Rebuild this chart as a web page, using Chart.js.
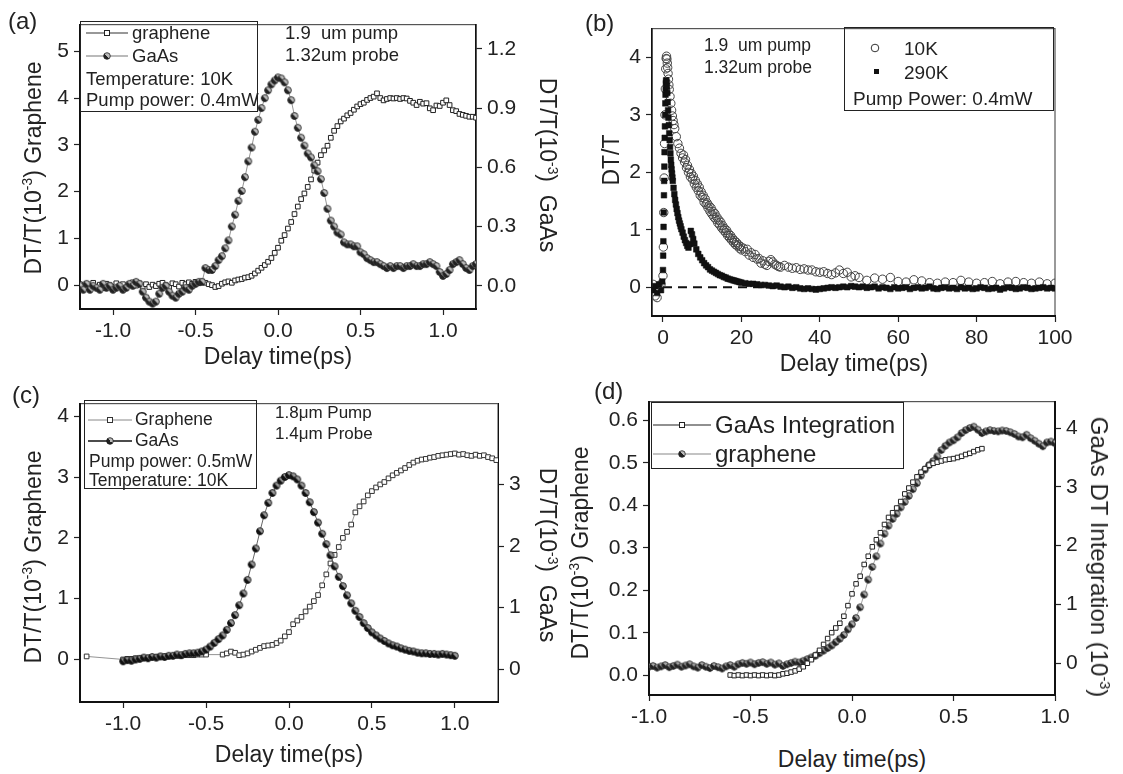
<!DOCTYPE html>
<html><head><meta charset="utf-8">
<script src="https://cdn.jsdelivr.net/npm/chart.js@4.4.1/dist/chart.umd.min.js"></script>
<style>
body{margin:0;background:#fff;width:1123px;height:774px;position:relative;overflow:hidden;font-family:"Liberation Sans",Arial,sans-serif;color:#222}
canvas{position:absolute}
.t{position:absolute;white-space:nowrap;line-height:1}
.vc{transform:translateY(-50%)}
.cc{transform:translate(-50%,-50%)}
.rl{transform:translate(-50%,-50%) rotate(-90deg)}
.rr{transform:translate(-50%,-50%) rotate(90deg)}
.box{position:absolute;border:1.5px solid #222;box-sizing:border-box}
.tt{font-size:23px}
sup{font-size:0.6em;vertical-align:0.6em;line-height:0}
svg{position:absolute;overflow:visible}
</style></head><body>
<canvas id="ca"></canvas><canvas id="cb"></canvas><canvas id="cc"></canvas><canvas id="cd"></canvas>

<!-- panel labels -->
<div class="t vc" style="left:8px;top:21px;font-size:24px">(a)</div>
<div class="t vc" style="left:585px;top:23px;font-size:24px">(b)</div>
<div class="t vc" style="left:12px;top:395px;font-size:24px">(c)</div>
<div class="t vc" style="left:594px;top:391px;font-size:24px">(d)</div>

<!-- axis titles -->
<div class="t cc tt" style="left:278px;top:356px">Delay time(ps)</div>
<div class="t cc tt" style="left:854px;top:363px">Delay time(ps)</div>
<div class="t cc tt" style="left:289px;top:754px">Delay time(ps)</div>
<div class="t cc tt" style="left:852px;top:759px">Delay time(ps)</div>
<div class="t rl tt" style="left:33px;top:168px">DT/T(10<sup>-3</sup>) Graphene</div>
<div class="t rr tt" style="left:547px;top:165px">DT/T(10<sup>-3</sup>)&nbsp; GaAs</div>
<div class="t rl tt" style="left:611px;top:160px">DT/T</div>
<div class="t rl tt" style="left:33px;top:557px">DT/T(10<sup>-3</sup>) Graphene</div>
<div class="t rr tt" style="left:547px;top:555px">DT/T(10<sup>-3</sup>)&nbsp; GaAs</div>
<div class="t rl tt" style="left:580px;top:553px">DT/T(10<sup>-3</sup>) Graphene</div>
<div class="t rr" style="left:1099px;top:557px;font-size:24px">GaAs DT Integration (10<sup>-3</sup>)</div>

<svg width="0" height="0"><defs><linearGradient id="hg" x1="0" y1="1" x2="1" y2="0"><stop offset="0.5" stop-color="#222"/><stop offset="0.5" stop-color="#bbb"/></linearGradient></defs></svg>

<!-- legend (a) -->
<div class="box" style="left:80px;top:21px;width:178px;height:91px"></div>
<svg style="left:86px;top:26px" width="44" height="14"><line x1="0" y1="7" x2="42" y2="7" stroke="#333" stroke-width="1.2"/><rect x="18.5" y="4.5" width="5" height="5" fill="#fff" stroke="#222"/></svg>
<div class="t vc" style="left:132px;top:33px;font-size:18.5px">graphene</div>
<svg style="left:86px;top:49px" width="44" height="14"><line x1="0" y1="7" x2="42" y2="7" stroke="#777" stroke-width="1.2"/><circle cx="21" cy="7" r="3.3" fill="url(#hg)" stroke="#222" stroke-width="0.8"/></svg>
<div class="t vc" style="left:132px;top:56px;font-size:18.5px">GaAs</div>
<div class="t vc" style="left:86px;top:79px;font-size:18.5px">Temperature: 10K</div>
<div class="t vc" style="left:86px;top:100px;font-size:18.5px">Pump power: 0.4mW</div>
<div class="t vc" style="left:285px;top:33px;font-size:18.5px">1.9&nbsp; um pump</div>
<div class="t vc" style="left:285px;top:55px;font-size:18.5px">1.32um probe</div>

<!-- legend (b) -->
<div class="box" style="left:844px;top:27px;width:210px;height:84px"></div>
<svg style="left:870px;top:43px" width="10" height="10"><circle cx="5" cy="5" r="3.8" fill="none" stroke="#333" stroke-width="1"/></svg>
<div class="t vc" style="left:904px;top:48px;font-size:19px">10K</div>
<svg style="left:874px;top:69px" width="6" height="6"><rect x="0" y="0" width="5" height="5" fill="#111"/></svg>
<div class="t vc" style="left:904px;top:72px;font-size:19px">290K</div>
<div class="t vc" style="left:853px;top:98px;font-size:19px">Pump Power: 0.4mW</div>
<div class="t vc" style="left:704px;top:46px;font-size:17.5px">1.9&nbsp; um pump</div>
<div class="t vc" style="left:704px;top:68px;font-size:17.5px">1.32um probe</div>

<!-- legend (c) -->
<div class="box" style="left:84px;top:400px;width:173px;height:89px"></div>
<svg style="left:88px;top:413px" width="46" height="14"><line x1="0" y1="7" x2="44" y2="7" stroke="#888" stroke-width="1"/><rect x="19.5" y="4.5" width="5" height="5" fill="#fff" stroke="#333"/></svg>
<div class="t vc" style="left:135px;top:420px;font-size:17.5px">Graphene</div>
<svg style="left:88px;top:434px" width="46" height="14"><line x1="0" y1="7" x2="44" y2="7" stroke="#111" stroke-width="1.5"/><circle cx="22" cy="7" r="3.3" fill="url(#hg)" stroke="#111" stroke-width="0.8"/></svg>
<div class="t vc" style="left:135px;top:441px;font-size:17.5px">GaAs</div>
<div class="t vc" style="left:89px;top:462px;font-size:17.5px">Pump power: 0.5mW</div>
<div class="t vc" style="left:89px;top:481px;font-size:17.5px">Temperature: 10K</div>
<div class="t vc" style="left:275px;top:412px;font-size:17px">1.8μm Pump</div>
<div class="t vc" style="left:275px;top:433px;font-size:17px">1.4μm Probe</div>

<!-- legend (d) -->
<div class="box" style="left:651px;top:402px;width:253px;height:67px"></div>
<svg style="left:653px;top:418px" width="58" height="14"><line x1="0" y1="7" x2="58" y2="7" stroke="#222" stroke-width="1.2"/><rect x="26.5" y="4.5" width="5" height="5" fill="#fff" stroke="#222"/></svg>
<div class="t vc" style="left:715px;top:425px;font-size:24px">GaAs Integration</div>
<svg style="left:653px;top:447px" width="58" height="14"><line x1="0" y1="7" x2="58" y2="7" stroke="#888" stroke-width="1.2"/><circle cx="29" cy="7" r="3.3" fill="url(#hg)" stroke="#222" stroke-width="0.8"/></svg>
<div class="t vc" style="left:715px;top:454px;font-size:24px">graphene</div>

<script>
// ---------------- DATA ----------------
// (a) delay times (ps), shared by both series
const aX = [-1.20,-1.18,-1.16,-1.14,-1.12,-1.10,-1.08,-1.06,-1.04,-1.02,
-1.00,-0.98,-0.96,-0.94,-0.92,-0.90,-0.88,-0.86,-0.84,-0.82,
-0.80,-0.78,-0.76,-0.74,-0.72,-0.70,-0.68,-0.66,-0.64,-0.62,
-0.60,-0.58,-0.56,-0.54,-0.52,-0.50,-0.48,-0.46,-0.44,-0.42,
-0.40,-0.38,-0.36,-0.34,-0.32,-0.30,-0.28,-0.26,-0.24,-0.22,
-0.20,-0.18,-0.16,-0.14,-0.12,-0.10,-0.08,-0.06,-0.04,-0.02,
0.00,0.02,0.04,0.06,0.08,0.10,0.12,0.14,0.16,0.18,
0.20,0.22,0.24,0.26,0.28,0.30,0.32,0.34,0.36,0.38,
0.40,0.42,0.44,0.46,0.48,0.50,0.52,0.54,0.56,0.58,
0.60,0.62,0.64,0.66,0.68,0.70,0.72,0.74,0.76,0.78,
0.80,0.82,0.84,0.86,0.88,0.90,0.92,0.94,0.96,0.98,
1.00,1.02,1.04,1.06,1.08,1.10,1.12,1.14,1.16,1.18,
1.20];
// (a) graphene DT/T (1e-3), left axis
const aGraphene = [0.02,-0.05,0.03,-0.02,0.05,-0.04,0.01,-0.06,0.03,0.00,
-0.04,0.04,-0.02,0.02,-0.05,0.03,0.06,-0.01,0.04,-0.03,
0.02,-0.04,0.01,-0.02,0.03,0.05,0.00,-0.04,0.04,0.02,
-0.03,0.05,0.02,0.06,0.03,0.07,0.04,0.08,0.05,0.02,
0.00,-0.04,-0.02,0.03,0.06,0.08,0.05,0.10,0.12,0.13,
0.16,0.17,0.20,0.25,0.31,0.37,0.43,0.50,0.58,0.69,
0.80,0.95,1.07,1.21,1.35,1.52,1.68,1.84,1.96,2.10,
2.26,2.45,2.62,2.78,2.88,2.98,3.15,3.30,3.40,3.50,
3.56,3.63,3.68,3.75,3.82,3.87,3.90,3.96,4.00,4.03,
4.10,4.00,3.95,3.98,4.00,3.99,4.00,3.98,4.00,3.99,
3.94,3.90,3.85,3.92,3.88,3.89,3.78,3.74,3.84,3.83,
3.90,3.95,3.85,3.74,3.72,3.66,3.64,3.62,3.60,3.60,
3.58];
// (a) GaAs DT/T (1e-3), right axis
const aGaAs = [0.00,-0.02,0.01,-0.02,0.00,-0.01,-0.02,0.01,-0.01,0.00,
-0.02,-0.01,0.00,-0.02,-0.01,0.01,0.00,0.02,0.01,-0.03,
-0.06,-0.08,-0.09,-0.08,-0.04,-0.01,0.00,-0.03,-0.05,-0.06,
-0.04,-0.03,-0.01,-0.02,0.00,0.01,0.02,0.02,0.09,0.08,
0.08,0.10,0.13,0.15,0.19,0.23,0.30,0.36,0.43,0.48,
0.55,0.63,0.70,0.78,0.84,0.90,0.95,0.99,1.02,1.04,
1.055,1.05,1.03,0.99,0.94,0.86,0.80,0.75,0.71,0.67,
0.65,0.61,0.58,0.54,0.47,0.39,0.33,0.30,0.27,0.26,
0.22,0.21,0.21,0.20,0.20,0.17,0.16,0.14,0.13,0.12,
0.12,0.11,0.10,0.09,0.10,0.09,0.10,0.10,0.09,0.10,
0.10,0.11,0.10,0.10,0.11,0.11,0.12,0.11,0.10,0.07,
0.05,0.06,0.08,0.11,0.12,0.13,0.11,0.09,0.08,0.10,
0.11];
const aXTicks = [-1.0,-0.5,0.0,0.5,1.0];
const aYTicks = [0,1,2,3,4,5];
const aY2Ticks = [0.0,0.3,0.6,0.9,1.2];

// (b) 10K and 290K
const b10X = [-2.5,-2,-1.5,-1,-0.5,
0,0.1,0.2,0.3,0.4,0.5,0.6,0.7,0.8,0.9,1.0,1.1,1.2,1.3,1.4,1.5,1.6,
1.8,2.0,2.2,2.4,2.6,2.8,3.0,
3.4,3.8,4.2,4.6,
5.0,5.25,5.5,5.75,6.0,6.25,6.5,6.75,7.0,7.25,7.5,7.75,8.0,8.25,8.5,8.75,9.0,9.25,9.5,9.75,
10.0,10.25,10.5,10.75,11.0,11.25,11.5,11.75,12.0,12.25,12.5,12.75,13.0,13.25,13.5,13.75,14.0,14.25,14.5,14.75,
15.0,15.25,15.5,15.75,16.0,16.25,16.5,16.75,17.0,17.25,17.5,17.75,18.0,18.25,18.5,18.75,19.0,19.25,19.5,19.75,20.0,
20.5,21,21.5,22,22.5,23,23.5,24,24.5,25,25.5,26,26.5,27,27.5,28,28.5,29,29.5,30,
31,32,33,34,35,36,37,38,39,40,41,42,43,44,45,46,47,48,49,50,
52,54,56,58,60,62,64,66,68,70,72,74,76,78,80,82,84,86,88,90,92,94,96,98,100];
const b10K = [0.05,-0.15,-0.18,0.0,0.05,
0.2,0.7,1.3,1.9,2.5,3.0,3.45,3.8,3.98,4.02,3.97,3.9,3.82,3.72,3.62,3.52,3.44,
3.32,3.2,3.08,2.98,2.9,2.83,2.76,
2.62,2.5,2.42,2.33,
2.25,2.30,2.18,2.22,2.08,2.12,2.00,2.05,1.92,1.98,1.88,1.93,1.80,1.86,1.74,1.80,1.68,1.74,1.60,1.66,
1.56,1.60,1.48,1.54,1.44,1.47,1.38,1.42,1.32,1.38,1.27,1.32,1.22,1.28,1.18,1.22,1.12,1.17,1.08,1.13,
1.03,1.07,0.99,1.02,0.95,0.99,0.90,0.93,0.86,0.90,0.82,0.85,0.78,0.81,0.74,0.78,0.72,0.74,0.68,0.71,0.65,
0.68,0.62,0.66,0.56,0.60,0.52,0.57,0.49,0.50,0.42,0.46,0.40,0.38,0.45,0.48,0.44,0.40,0.38,0.36,0.35,
0.38,0.35,0.33,0.34,0.31,0.32,0.3,0.3,0.27,0.26,0.27,0.24,0.22,0.25,0.3,0.24,0.26,0.18,0.2,0.17,
0.12,0.16,0.14,0.17,0.1,0.09,0.13,0.11,0.08,0.07,0.09,0.08,0.12,0.09,0.07,0.08,0.1,0.06,0.09,0.1,0.08,0.07,0.09,0.06,0.07];
const b290X = [-2.5,-2,-1.5,-1,-0.5,-0.2,0,
0.05,0.1,0.15,0.2,0.25,0.3,0.35,0.4,0.45,0.5,0.55,0.6,0.65,0.7,0.75,0.8,
0.9,1.0,1.1,1.2,1.3,1.4,1.5,1.6,1.7,1.8,1.9,2.0,2.1,2.2,2.3,2.4,2.5,
2.7,2.9,3.1,3.3,3.5,3.7,3.9,4.1,4.3,4.5,4.7,
5.0,5.3,5.6,5.9,6.2,6.5,6.8,7.1,7.4,7.7,8.0,
8.5,9,9.5,10,10.5,11,11.5,12,12.5,13,13.5,14,14.5,15,15.5,16,16.5,17,17.5,18,18.5,19,19.5,20,
21,22,23,24,25,26,27,28,29,30,31,32,33,34,35,36,37,38,39,40,
41,42,43,44,45,46,47,48,49,50,51,52,53,54,55,56,57,58,59,60,
61,62,63,64,65,66,67,68,69,70,71,72,73,74,75,76,77,78,79,80,
81,82,83,84,85,86,87,88,89,90,91,92,93,94,95,96,97,98,99,100];
const b290K = [-0.05,0.02,-0.1,0.05,-0.05,0.1,0.3,
0.55,0.8,1.05,1.3,1.6,1.85,2.1,2.35,2.6,2.8,3.0,3.2,3.35,3.45,3.55,3.6,
3.58,3.5,3.38,3.22,3.08,2.95,2.82,2.68,2.56,2.44,2.33,2.22,2.13,2.05,1.98,1.91,1.85,
1.73,1.62,1.52,1.44,1.36,1.29,1.22,1.16,1.11,1.06,1.01,
0.95,0.88,0.82,0.77,0.72,0.69,0.75,0.98,0.92,0.84,0.76,
0.66,0.58,0.52,0.47,0.42,0.38,0.35,0.31,0.29,0.27,0.25,0.23,0.21,0.2,0.18,0.17,0.15,0.14,0.13,0.12,0.11,0.1,0.09,0.08,
0.07,0.06,0.06,0.05,0.04,0.04,0.03,0.02,0.03,0.01,0.0,0.01,-0.01,0.0,-0.02,-0.03,-0.02,-0.03,-0.04,-0.03,
-0.02,-0.01,0.0,-0.01,0.0,0.01,0.0,0.02,0.01,0.0,0.01,-0.01,0.0,0.01,-0.02,0.0,-0.01,-0.03,0.0,-0.02,
-0.01,0.0,-0.03,-0.01,0.0,-0.02,-0.01,0.01,-0.02,-0.03,-0.01,0.0,-0.02,-0.01,-0.03,0.0,-0.02,-0.01,-0.03,-0.02,
0.0,-0.01,-0.03,-0.02,-0.01,-0.04,-0.02,0.0,-0.01,-0.03,-0.02,0.0,-0.01,-0.03,-0.02,-0.01,0.0,-0.02,-0.01,-0.02];
const bZeroX = [0,100];
const bZeroY = [0,0];
const bXTicks = [0,20,40,60,80,100];
const bYTicks = [0,1,2,3,4];

// (c)
const cGaAsX = [-1,-0.975,-0.95,-0.925,-0.9,-0.875,-0.85,-0.825,-0.8,-0.775,
-0.75,-0.725,-0.7,-0.675,-0.65,-0.625,-0.6,-0.575,-0.55,-0.525,
-0.5,-0.475,-0.45,-0.425,-0.4,-0.375,-0.35,-0.325,-0.3,-0.275,
-0.25,-0.225,-0.2,-0.175,-0.15,-0.125,-0.1,-0.075,-0.05,-0.025,
0,0.025,0.05,0.075,0.1,0.125,0.15,0.175,0.2,0.225,
0.25,0.275,0.3,0.325,0.35,0.375,0.4,0.425,0.45,0.475,
0.5,0.525,0.55,0.575,0.6,0.625,0.65,0.675,0.7,0.725,
0.75,0.775,0.8,0.825,0.85,0.875,0.9,0.925,0.95,0.975,
1];
const cGaAs = [0.13,0.15,0.14,0.16,0.17,0.19,0.18,0.20,0.19,0.21,
0.20,0.22,0.22,0.24,0.23,0.25,0.26,0.26,0.27,0.29,
0.32,0.37,0.43,0.49,0.55,0.64,0.75,0.88,1.04,1.23,
1.45,1.70,1.96,2.24,2.50,2.70,2.86,2.98,3.06,3.12,
3.15,3.13,3.08,2.98,2.86,2.71,2.55,2.38,2.20,2.03,
1.85,1.67,1.50,1.35,1.20,1.07,0.95,0.85,0.75,0.67,
0.60,0.55,0.50,0.46,0.42,0.39,0.37,0.34,0.32,0.30,
0.29,0.27,0.26,0.26,0.25,0.25,0.24,0.25,0.24,0.23,
0.22];
const cGraX = [-1.22,
-1,-0.975,-0.95,-0.925,-0.9,-0.875,-0.85,-0.825,-0.8,-0.775,-0.75,-0.725,-0.7,-0.675,-0.65,-0.625,-0.6,-0.575,-0.55,-0.525,-0.5,
-0.4,-0.375,-0.35,-0.325,-0.3,-0.275,-0.25,-0.225,-0.2,-0.175,
-0.15,-0.125,-0.1,-0.075,-0.05,-0.025,0,0.025,0.05,0.075,
0.1,0.125,0.15,0.175,0.2,0.225,0.25,0.275,0.3,0.325,
0.35,0.375,0.4,0.425,0.45,0.475,0.5,0.525,0.55,0.575,
0.6,0.625,0.65,0.675,0.7,0.725,0.75,0.775,0.8,0.825,
0.85,0.875,0.9,0.925,0.95,0.975,1,1.025,1.05,1.075,
1.1,1.125,1.15,1.175,1.2,1.225,1.25];
const cGraphene = [0.05,
0.00,0.01,0.01,0.02,0.02,0.03,0.03,0.04,0.04,0.05,0.05,0.05,0.06,0.06,0.06,0.07,0.07,0.07,0.08,0.08,0.08,
0.08,0.10,0.13,0.11,0.07,0.08,0.10,0.13,0.16,0.19,
0.22,0.23,0.24,0.27,0.31,0.38,0.45,0.58,0.64,0.70,
0.79,0.87,0.96,1.06,1.22,1.40,1.58,1.72,1.85,2.00,
2.10,2.22,2.42,2.52,2.60,2.70,2.77,2.83,2.88,2.92,
2.98,3.03,3.07,3.11,3.15,3.20,3.24,3.27,3.29,3.30,
3.32,3.33,3.35,3.36,3.37,3.38,3.39,3.37,3.38,3.36,
3.35,3.37,3.35,3.36,3.33,3.31,3.28];
const cXTicks = [-1.0,-0.5,0.0,0.5,1.0];
const cYTicks = [0,1,2,3,4];
const cY2Ticks = [0,1,2,3];

// (d)
const dGaAsX = [-0.60,-0.58,-0.56,-0.54,-0.52,-0.50,-0.48,-0.46,-0.44,-0.42,
-0.40,-0.38,-0.36,-0.34,-0.32,-0.30,-0.28,-0.26,-0.24,-0.22,
-0.20,-0.18,-0.16,-0.14,-0.12,-0.10,-0.08,-0.06,-0.04,-0.02,
0.00,0.02,0.04,0.06,0.08,0.10,0.12,0.14,0.16,0.18,
0.20,0.22,0.24,0.26,0.28,0.30,0.32,0.34,0.36,0.38,
0.40,0.42,0.44,0.46,0.48,0.50,0.52,0.54,0.56,0.58,
0.60,0.62,0.64];
const dGaAsInt = [-0.20,-0.21,-0.20,-0.21,-0.20,-0.21,-0.20,-0.21,-0.20,-0.21,
-0.20,-0.21,-0.20,-0.18,-0.17,-0.15,-0.13,-0.10,-0.06,0.00,
0.06,0.14,0.22,0.32,0.42,0.52,0.60,0.68,0.80,0.98,
1.18,1.35,1.48,1.68,1.82,1.98,2.10,2.22,2.36,2.48,
2.56,2.64,2.75,2.88,2.98,3.08,3.17,3.25,3.31,3.37,
3.40,3.42,3.44,3.46,3.47,3.48,3.50,3.52,3.55,3.57,
3.60,3.63,3.65];
const dGraX = [-1.00,-0.98,-0.96,-0.94,-0.92,-0.90,-0.88,-0.86,-0.84,-0.82,
-0.80,-0.78,-0.76,-0.74,-0.72,-0.70,-0.68,-0.66,-0.64,-0.62,
-0.60,-0.58,-0.56,-0.54,-0.52,-0.50,-0.48,-0.46,-0.44,-0.42,
-0.40,-0.38,-0.36,-0.34,-0.32,-0.30,-0.28,-0.26,-0.24,-0.22,
-0.20,-0.18,-0.16,-0.14,-0.12,-0.10,-0.08,-0.06,-0.04,-0.02,
0.00,0.02,0.04,0.06,0.08,0.10,0.12,0.14,0.16,0.18,
0.20,0.22,0.24,0.26,0.28,0.30,0.32,0.34,0.36,0.38,
0.40,0.42,0.44,0.46,0.48,0.50,0.52,0.54,0.56,0.58,
0.60,0.62,0.64,0.66,0.68,0.70,0.72,0.74,0.76,0.78,
0.80,0.82,0.84,0.86,0.88,0.90,0.92,0.94,0.96,0.98,
1.00];
const dGraphene = [0.020,0.022,0.018,0.021,0.024,0.019,0.022,0.025,0.020,0.023,
0.026,0.021,0.018,0.024,0.020,0.017,0.022,0.019,0.016,0.021,
0.024,0.020,0.026,0.029,0.027,0.030,0.026,0.029,0.031,0.027,
0.030,0.025,0.028,0.022,0.026,0.029,0.032,0.030,0.034,0.038,
0.042,0.046,0.052,0.058,0.064,0.070,0.078,0.086,0.095,0.108,
0.120,0.135,0.160,0.190,0.225,0.255,0.280,0.310,0.333,0.352,
0.368,0.380,0.395,0.408,0.422,0.438,0.452,0.470,0.484,0.495,
0.504,0.515,0.530,0.540,0.548,0.553,0.560,0.570,0.577,0.582,
0.585,0.578,0.570,0.574,0.577,0.575,0.574,0.576,0.575,0.572,
0.568,0.562,0.560,0.566,0.558,0.552,0.545,0.539,0.548,0.550,
0.546];
const dXTicks = [-1.0,-0.5,0.0,0.5,1.0];
const dYTicks = [0.0,0.1,0.2,0.3,0.4,0.5,0.6];
const dY2Ticks = [0,1,2,3,4];

// ---------------- RENDER ----------------
Chart.defaults.font.family = '"Liberation Sans", Arial, sans-serif';
Chart.defaults.color = '#222';
const TICKFONT = {size:21};

function pts(xs, ys){ return xs.map((x,i)=>({x:x, y:ys[i]})); }

function halfCircle(r, dark, light){
  const s = Math.ceil(r*2+3), c = document.createElement('canvas');
  c.width = s; c.height = s;
  const g = c.getContext('2d'), m = s/2;
  g.beginPath(); g.arc(m,m,r,0,Math.PI*2); g.fillStyle = light; g.fill();
  g.beginPath(); g.moveTo(m,m); g.arc(m,m,r,Math.PI*0.25,Math.PI*1.25); g.closePath(); g.fillStyle = dark; g.fill();
  g.beginPath(); g.arc(m,m,r,0,Math.PI*2); g.lineWidth = 0.9; g.strokeStyle = dark; g.stroke();
  return c;
}

const framePlugin = {
  id:'frame',
  beforeDraw(chart){
    const a = chart.chartArea, ctx = chart.ctx;
    ctx.save(); ctx.strokeStyle = '#555'; ctx.lineWidth = 1.2;
    ctx.strokeRect(a.left, a.top, a.right-a.left, a.bottom-a.top);
    ctx.restore();
  }
};

function xAxis(min, max, ticks, dec, h){
  return { type:'linear', position:'bottom', min:min, max:max, bounds:'data',
    afterBuildTicks: s => { s.ticks = ticks.map(v=>({value:v})); },
    afterFit: s => { s.height = h; },
    ticks:{ callback: v => Number(v).toFixed(dec), font:TICKFONT, color:'#222', padding:4, autoSkip:false, maxRotation:0 },
    grid:{ drawOnChartArea:false, drawTicks:true, tickLength:6, tickWidth:1.2, tickColor:'#222' },
    border:{ display:true, color:'#111', width:2 } };
}
function yAxis(pos, min, max, ticks, dec, w, bw){
  return { type:'linear', position:pos, min:min, max:max, bounds:'data',
    afterBuildTicks: s => { s.ticks = ticks.map(v=>({value:v})); },
    afterFit: s => { s.width = w; },
    ticks:{ callback: v => Number(v).toFixed(dec), font:TICKFONT, color:'#222', padding:5, autoSkip:false },
    grid:{ drawOnChartArea:false, drawTicks:true, tickLength:6, tickWidth:1.2, tickColor:'#222' },
    border:{ display:true, color:'#111', width:bw } };
}

function makeChart(id, box, pad, datasets, scales){
  const c = document.getElementById(id);
  c.style.left = box.x+'px'; c.style.top = box.y+'px';
  c.width = box.w; c.height = box.h;
  c.style.width = box.w+'px'; c.style.height = box.h+'px';
  new Chart(c, { type:'scatter', data:{datasets:datasets},
    options:{ responsive:false, animation:false, events:[], devicePixelRatio:1,
      layout:{padding:pad},
      plugins:{legend:{display:false}, tooltip:{enabled:false}},
      scales:scales },
    plugins:[framePlugin] });
}

const halfA = halfCircle(3.4, '#222', '#bbb');
const halfC = halfCircle(3.4, '#111', '#999');
const halfD = halfCircle(3.3, '#222', '#aaa');

// (a): frame 80..476 x 21..309
makeChart('ca', {x:0, y:7, w:538, h:346}, {top:14,left:0,right:0,bottom:0}, [
  { data:pts(aX,aGaAs), yAxisID:'y2', showLine:true, borderColor:'#888', borderWidth:0.9,
    pointStyle:halfA, pointRadius:3.4 },
  { data:pts(aX,aGraphene), yAxisID:'y', showLine:true, borderColor:'#888', borderWidth:0.9,
    pointStyle:'rect', pointRadius:3.3, pointBackgroundColor:'#fff', pointBorderColor:'#222', pointBorderWidth:1 }
], { x:xAxis(-1.2,1.2,aXTicks,1,44), y:yAxis('left',-0.51,5.57,aYTicks,0,80,2), y2:yAxis('right',-0.1175,1.3225,aY2Ticks,1,62,1.5) });

// (b): frame 652..1055 x 25..316
makeChart('cb', {x:592, y:11, w:488, h:349}, {top:14,left:0,right:25,bottom:0}, [
  { data:pts(b290X,b290K), showLine:false, pointStyle:'rect', pointRadius:4,
    pointBackgroundColor:'#111', pointBorderColor:'#111', pointBorderWidth:0.5 },
  { data:pts(b10X,b10K), showLine:false, pointStyle:'circle', pointRadius:4.2,
    pointBackgroundColor:'rgba(255,255,255,0)', pointBorderColor:'#444', pointBorderWidth:1 },
  { data:pts(bZeroX,bZeroY), showLine:true, pointRadius:0, borderColor:'#111', borderWidth:1.8, borderDash:[9,6] }
], { x:xAxis(-2.8,100,bXTicks,0,44), y:yAxis('left',-0.5,4.5,bYTicks,0,60,1.5) });

// (c): frame 80..498 x 400..702
makeChart('cc', {x:0, y:386, w:540, h:360}, {top:14,left:0,right:0,bottom:0}, [
  { data:pts(cGaAsX,cGaAs), yAxisID:'y2', showLine:true, borderColor:'#555', borderWidth:0.9,
    pointStyle:halfC, pointRadius:3.4 },
  { data:pts(cGraX,cGraphene), yAxisID:'y', showLine:true, borderColor:'#888', borderWidth:0.9,
    pointStyle:'rect', pointRadius:3.3, pointBackgroundColor:'#fff', pointBorderColor:'#333', pointBorderWidth:1 }
], { x:xAxis(-1.26,1.26,cXTicks,1,44), y:yAxis('left',-0.70,4.21,cYTicks,0,80,2), y2:yAxis('right',-0.53,4.31,cY2Ticks,0,42,1) });

// (d): frame 649..1055 x 398..695
makeChart('cd', {x:579, y:384, w:518, h:355}, {top:14,left:0,right:0,bottom:0}, [
  { data:pts(dGaAsX,dGaAsInt), yAxisID:'y2', showLine:true, borderColor:'#888', borderWidth:0.9,
    pointStyle:'rect', pointRadius:3.2, pointBackgroundColor:'#fff', pointBorderColor:'#222', pointBorderWidth:1 },
  { data:pts(dGraX,dGraphene), yAxisID:'y', showLine:true, borderColor:'#999', borderWidth:0.9,
    pointStyle:halfD, pointRadius:3.3 }
], { x:xAxis(-1,1,dXTicks,1,44), y:yAxis('left',-0.0465,0.644,dYTicks,1,70,2), y2:yAxis('right',-0.54,4.45,dY2Ticks,0,42,2) });
</script>
</body></html>
